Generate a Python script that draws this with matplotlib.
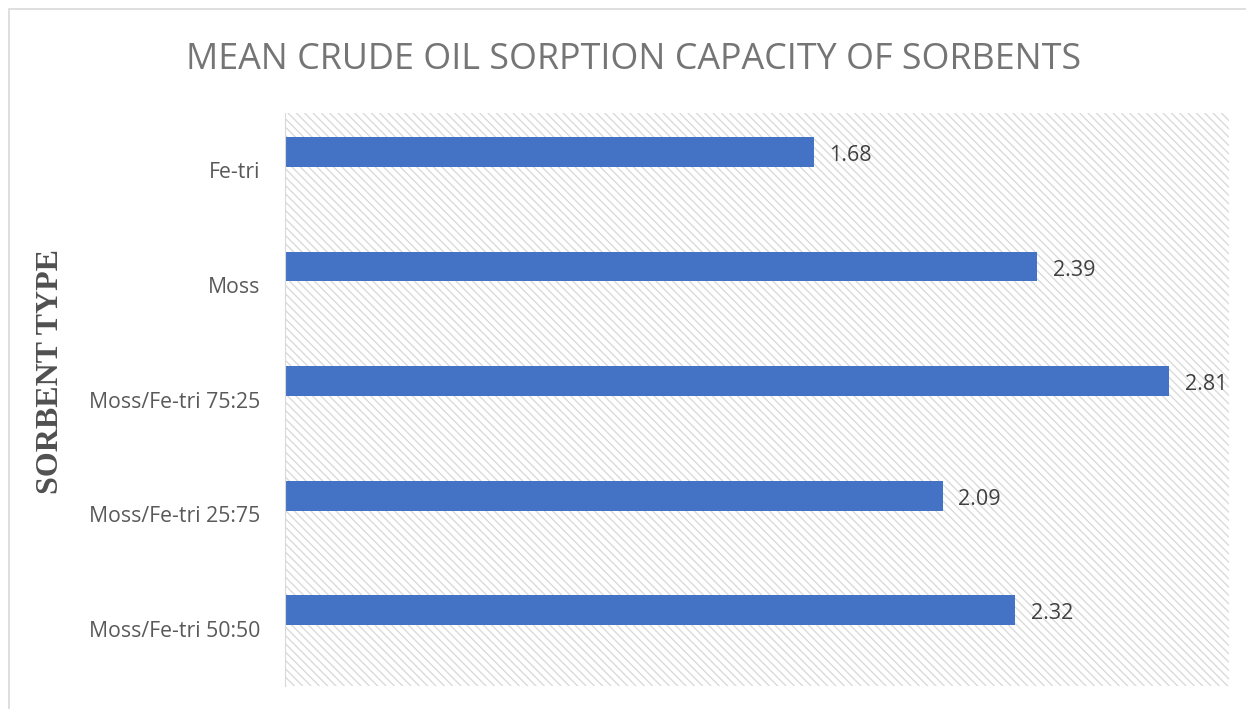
import matplotlib
matplotlib.use("Agg")
import matplotlib.pyplot as plt
from matplotlib.patches import Rectangle

# sorbent data, top to bottom as shown
sorbents = ["Fe-tri", "Moss", "Moss/Fe-tri 75:25", "Moss/Fe-tri 25:75", "Moss/Fe-tri 50:50"]
capacity = [1.68, 2.39, 2.81, 2.09, 2.32]

plt.rcParams['font.family'] = ['Open Sans', 'DejaVu Sans']
plt.rcParams['hatch.linewidth'] = 1.0

fig = plt.figure(figsize=(12.46, 7.09), dpi=100)
ax = fig.add_axes([285/1246, 1 - 686/709, (1229-285)/1246, (686-113)/709])

# outer chart border (top and left visible)
fig.patches.append(Rectangle((9/1246, -0.1), 1.2, 1 - 9/709 + 0.1, transform=fig.transFigure,
                             fill=False, edgecolor='#d9d9d9', lw=1.2))

# hatched plot area background
ax.add_patch(Rectangle((0, 0), 1, 1, transform=ax.transAxes, facecolor='white',
                       hatch='\\\\\\\\', edgecolor='#dadada', lw=0, zorder=0))

y = list(range(len(sorbents)))
# bars sit a little above the category centre (as in the original Excel chart)
ybar = [yi - 0.16 for yi in y]
ax.barh(ybar, capacity, height=0.26, color='#4472c4', zorder=2)
for yi, v in zip(ybar, capacity):
    ax.text(v + 0.05, yi + 0.03, f"{v:.2f}", va='center', ha='left', fontsize=15.5, color='#404040', zorder=3)

ax.set_xlim(0, 3.0)
ax.set_ylim(len(sorbents) - 0.5, -0.5)
ax.set_yticks(y)
ax.set_yticklabels(sorbents, fontsize=15.3, color='#595959')
ax.tick_params(axis='y', length=0, pad=18)
ax.set_xticks([])
for s in ['top', 'right', 'bottom']:
    ax.spines[s].set_visible(False)
ax.spines['left'].set_color('#d9d9d9')

fig.text(634/1246, 1 - 60/709, "MEAN CRUDE OIL SORPTION CAPACITY OF SORBENTS", ha='center', va='center',
         fontsize=25.8, color='#757575')
fig.text(51/1246, 1 - 371/709, "SORBENT TYPE", rotation=90, ha='center', va='center',
         fontsize=23, fontweight='bold', family='Liberation Serif', color='#505050')

fig.savefig("out.png", dpi=100)
